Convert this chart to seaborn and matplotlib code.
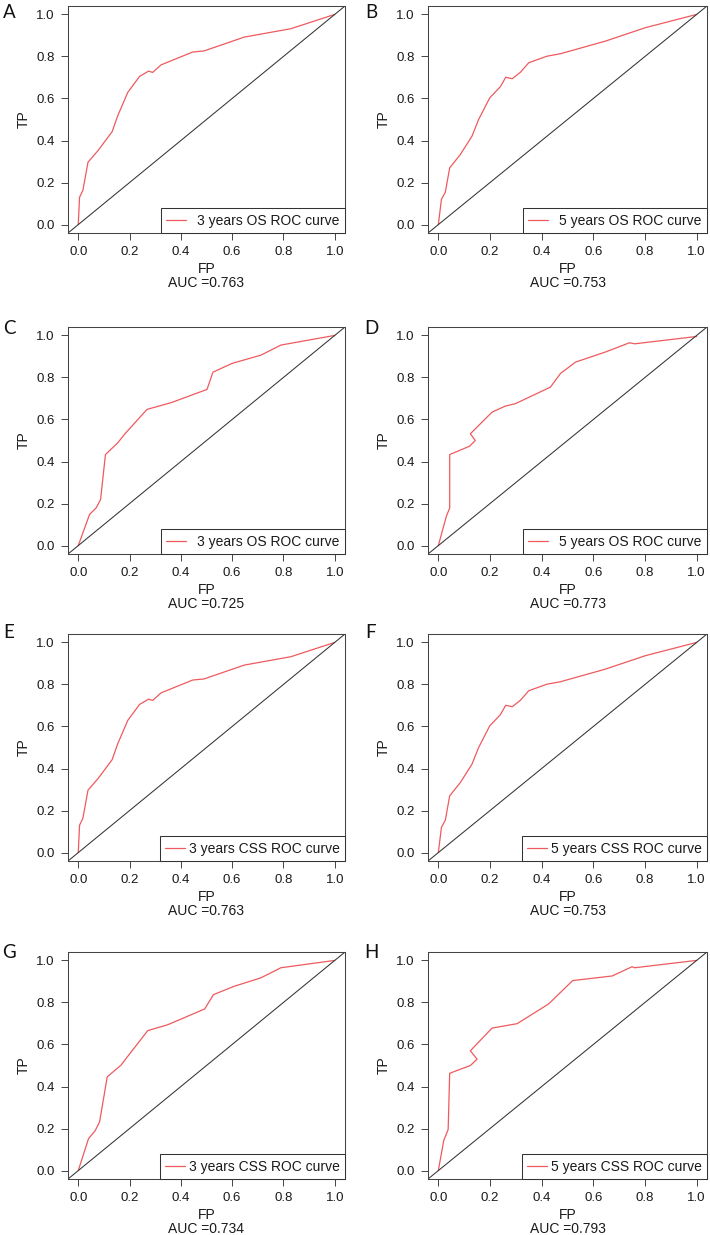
import matplotlib
matplotlib.use("Agg")
from matplotlib import pyplot as plt
import seaborn as sns

# ROC points (FP, TP)
fp_a = [0.0, 0.005, 0.018, 0.038, 0.077, 0.132, 0.154, 0.193, 0.239, 0.274, 0.29, 0.323, 0.446, 0.49, 0.647, 0.829, 1.0]
tp_a = [0.0, 0.13, 0.163, 0.297, 0.352, 0.442, 0.518, 0.629, 0.705, 0.73, 0.724, 0.76, 0.821, 0.826, 0.892, 0.932, 1.0]

fp_b = [0.0, 0.012, 0.027, 0.044, 0.085, 0.13, 0.156, 0.199, 0.24, 0.261, 0.286, 0.318, 0.35, 0.42, 0.473, 0.647, 0.802, 1.0]
tp_b = [0.0, 0.12, 0.154, 0.27, 0.333, 0.42, 0.50, 0.603, 0.656, 0.701, 0.694, 0.725, 0.77, 0.801, 0.813, 0.873, 0.937, 1.0]

fp_c = [0.0, 0.044, 0.07, 0.087, 0.106, 0.154, 0.18, 0.268, 0.362, 0.502, 0.525, 0.6, 0.712, 0.79, 1.0]
tp_c = [0.0, 0.148, 0.18, 0.219, 0.433, 0.489, 0.529, 0.648, 0.68, 0.743, 0.825, 0.867, 0.906, 0.954, 1.0]

fp_d = [0.0, 0.031, 0.044, 0.044, 0.121, 0.143, 0.124, 0.208, 0.26, 0.298, 0.434, 0.473, 0.531, 0.647, 0.74, 0.76, 1.0]
tp_d = [0.0, 0.139, 0.179, 0.433, 0.473, 0.50, 0.532, 0.635, 0.664, 0.675, 0.754, 0.819, 0.873, 0.921, 0.965, 0.96, 0.995]

fp_e = [0.0, 0.005, 0.018, 0.038, 0.077, 0.132, 0.154, 0.193, 0.239, 0.274, 0.29, 0.323, 0.446, 0.49, 0.647, 0.829, 1.0]
tp_e = [0.0, 0.13, 0.163, 0.297, 0.352, 0.442, 0.518, 0.629, 0.705, 0.73, 0.724, 0.76, 0.821, 0.826, 0.892, 0.932, 1.0]

fp_f = [0.0, 0.012, 0.027, 0.044, 0.085, 0.13, 0.156, 0.199, 0.24, 0.261, 0.286, 0.318, 0.35, 0.42, 0.473, 0.647, 0.802, 1.0]
tp_f = [0.0, 0.12, 0.154, 0.27, 0.333, 0.42, 0.50, 0.603, 0.656, 0.701, 0.694, 0.725, 0.77, 0.801, 0.813, 0.873, 0.937, 1.0]

fp_g = [0.0, 0.04, 0.066, 0.083, 0.113, 0.167, 0.19, 0.271, 0.349, 0.493, 0.527, 0.608, 0.712, 0.79, 1.0]
tp_g = [0.0, 0.152, 0.19, 0.231, 0.446, 0.502, 0.539, 0.666, 0.694, 0.769, 0.837, 0.877, 0.917, 0.965, 1.0]

fp_h = [0.0, 0.021, 0.038, 0.044, 0.124, 0.15, 0.124, 0.208, 0.305, 0.427, 0.52, 0.673, 0.75, 0.76, 1.0]
tp_h = [0.0, 0.144, 0.195, 0.463, 0.50, 0.53, 0.57, 0.678, 0.699, 0.793, 0.904, 0.926, 0.97, 0.965, 1.0]

letters = ["A", "B", "C", "D", "E", "F", "G", "H"]
legend_labels = ["3 years OS ROC curve", "5 years OS ROC curve",
                 "3 years OS ROC curve", "5 years OS ROC curve",
                 "3 years CSS ROC curve", "5 years CSS ROC curve",
                 "3 years CSS ROC curve", "5 years CSS ROC curve"]
auc_values = ["0.763", "0.753", "0.725", "0.773", "0.763", "0.753", "0.734", "0.793"]
fp_all = [fp_a, fp_b, fp_c, fp_d, fp_e, fp_f, fp_g, fp_h]
tp_all = [tp_a, tp_b, tp_c, tp_d, tp_e, tp_f, tp_g, tp_h]

sns.set_theme(style="white")
plt.rcParams['font.family'] = ['Liberation Sans', 'DejaVu Sans']

W, H = 710, 1235
fig = plt.figure(figsize=(W / 100, H / 100), dpi=100)

# layout in pixels
col_left = [68, 428]
col_width = [277, 279]
row_top = [6, 327, 634, 952]
row_height = 227
letter_x = [9, 371]
letter_y = [12, 329, 632, 953]

red = "#EE5A5E"
grey = "#444444"
txt = "#1a1a1a"

for i in range(8):
    r, c = divmod(i, 2)
    rect = [col_left[c] / W, 1 - (row_top[r] + row_height) / H,
            col_width[c] / W, row_height / H]
    ax = fig.add_axes(rect)

    sns.lineplot(x=fp_all[i], y=tp_all[i], sort=False, estimator=None, ax=ax,
                 color=red, linewidth=0.9, label=legend_labels[i])
    ax.axline((0, 0), (1, 1), color="#333333", linewidth=0.75)

    ax.set_xlim(-0.04, 1.04)
    ax.set_ylim(-0.04, 1.04)
    ticks = [0.0, 0.2, 0.4, 0.6, 0.8, 1.0]
    ax.set_xticks(ticks)
    ax.set_yticks(ticks)
    ax.set_xticklabels([f"{t:.1f}" for t in ticks])
    ax.set_yticklabels([f"{t:.1f}" for t in ticks])
    ax.tick_params(axis="both", direction="out", length=5, width=0.7, color=grey,
                   labelsize=9.5, labelcolor=txt, pad=4.5,
                   bottom=True, left=True)
    for s in ax.spines.values():
        s.set_color(grey)
        s.set_linewidth(0.75)

    ax.set_xlabel("FP", fontsize=10, labelpad=3, color=txt)
    ax.set_ylabel("TP", fontsize=10, labelpad=4, color=txt)
    ax.annotate("AUC =" + auc_values[i], xy=(0.5, 0), xycoords="axes fraction",
                xytext=(0, -36), textcoords="offset points",
                ha="center", va="center", fontsize=10, color=txt)

    gap = 0.8 if "OS" in legend_labels[i] else 0.25
    leg = ax.legend(loc="lower right", borderaxespad=0, fancybox=False,
                    frameon=True, framealpha=1, edgecolor="#333333",
                    fontsize=10, handlelength=1.45, handletextpad=gap,
                    borderpad=0.38, labelcolor=txt)
    leg.get_frame().set_linewidth(0.75)

    fig.text(letter_x[c] / W, 1 - letter_y[r] / H, letters[i],
             family=['Lato', 'DejaVu Sans'], fontsize=13.5, ha="center", va="center",
             color="#111111")

fig.savefig("out.png", dpi=100)
